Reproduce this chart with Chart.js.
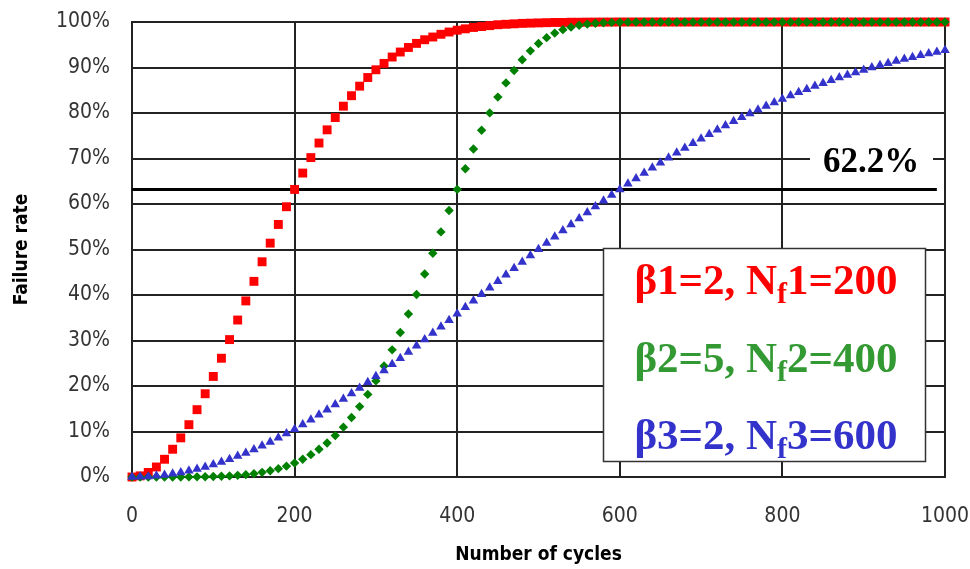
<!DOCTYPE html>
<html><head><meta charset="utf-8">
<script src="https://cdn.jsdelivr.net/npm/chart.js@4"></script>
<style>html,body{margin:0;padding:0;background:#fff;overflow:hidden}#wrap{width:970px;height:569px}</style>
</head><body><div id="wrap"><canvas id="c" width="970" height="569"></canvas></div>
<script>
// ---- data ----
const cycles = [0,10,20,30,40,50,60,70,80,90,100,110,120,130,140,150,160,170,180,190,200,210,220,230,240,250,260,270,280,290,300,310,320,330,340,350,360,370,380,390,400,410,420,430,440,450,460,470,480,490,500,510,520,530,540,550,560,570,580,590,600,610,620,630,640,650,660,670,680,690,700,710,720,730,740,750,760,770,780,790,800,810,820,830,840,850,860,870,880,890,900,910,920,930,940,950,960,970,980,990,1000];
const redValues = [0,0.25,1.0,2.2,3.9,6.1,8.6,11.5,14.8,18.3,
22.1,26.1,30.2,34.5,38.7,43.0,47.3,51.4,55.5,59.4,
63.2,66.8,70.2,73.4,76.3,79.0,81.5,83.8,85.9,87.8,
89.5,90.9,92.3,93.4,94.4,95.3,96.1,96.7,97.3,97.8,
98.2,98.5,98.8,99.0,99.2,99.4,99.5,99.6,99.7,99.75,
99.8,99.85,99.9,99.9,99.95,99.95,99.97,99.98,99.99,99.99,
100,100,100,100,100,100,100,100,100,100,
100,100,100,100,100,100,100,100,100,100,
100,100,100,100,100,100,100,100,100,100,
100,100,100,100,100,100,100,100,100,100,100];
const greenValues = [0,0,0,0,0,0.01,0.01,0.02,0.03,0.06,
0.1,0.16,0.24,0.36,0.52,0.74,1.02,1.38,1.83,2.39,
3.08,3.91,4.91,6.09,7.48,9.10,10.96,13.08,15.47,18.15,
21.12,24.39,27.94,31.77,35.83,40.12,44.60,49.19,53.87,58.56,
63.21,67.75,72.09,76.20,80.02,83.50,86.62,89.35,91.70,93.66,
95.27,96.56,97.56,98.32,98.87,99.27,99.54,99.72,99.84,99.91,
99.95,99.97,99.99,99.99,100,100,100,100,100,100,
100,100,100,100,100,100,100,100,100,100,
100,100,100,100,100,100,100,100,100,100,
100,100,100,100,100,100,100,100,100,100,100];
const blueValues = [0,0.03,0.11,0.25,0.44,0.69,1.00,1.35,1.76,2.22,
2.74,3.31,3.92,4.59,5.30,6.06,6.86,7.71,8.61,9.54,
10.52,11.53,12.58,13.67,14.79,15.94,17.12,18.33,19.57,20.83,
22.12,23.43,24.76,26.10,27.47,28.84,30.23,31.63,33.04,34.47,
35.88,37.30,38.74,40.17,41.60,43.02,44.44,45.86,47.27,48.67,
50.07,51.45,52.81,54.17,55.51,56.84,58.15,59.44,60.72,61.97,
63.21,64.43,65.62,66.79,67.95,69.08,70.18,71.26,72.32,73.35,
74.36,75.34,76.31,77.24,78.16,79.04,79.90,80.74,81.55,82.33,
83.10,83.84,84.55,85.24,85.91,86.56,87.18,87.78,88.36,88.92,
89.46,89.98,90.47,90.95,91.41,91.85,92.27,92.67,93.06,93.43,93.78];
const thresholdValue = 63.2;
const thresholdSpan = [0, 990];
const thresholdLabel = '62.2%';
const xTicks = [0,200,400,600,800,1000];
const yTicks = [0,10,20,30,40,50,60,70,80,90,100];
const legendLines = [
  ['β1=2, N','f','1=200'],
  ['β2=5, N','f','2=400'],
  ['β3=2, N','f','3=600']
];
const seriesColors = ['#ff0000','#008000','#3333cc'];
const legendColors = ['#ff0000','#339933','#3333cc'];

// ---- chart ----
const toPts = vals => cycles.map((c,i)=>({x:c,y:vals[i]}));
const SANS = '"Liberation Sans Narrow","Arial Narrow","DejaVu Sans Condensed","Liberation Sans",Arial,sans-serif';
const SERIF = '"Liberation Serif","Times New Roman",serif';

const overlay = {
  id:'overlay',
  afterDatasetsDraw(chart){
    const ctx = chart.ctx;
    ctx.save();
    // threshold label
    ctx.fillStyle='#fff';
    ctx.fillRect(810,146,123,30);
    ctx.fillStyle='#000';
    ctx.font='bold 35px '+SERIF;
    ctx.textAlign='center';
    ctx.textBaseline='alphabetic';
    ctx.fillText(thresholdLabel,871,172);
    // legend box
    ctx.fillStyle='#fff';
    ctx.fillRect(603,248,323,214);
    ctx.strokeStyle='#333';
    ctx.lineWidth=1.5;
    ctx.strokeRect(603.5,248.5,322,213);
    const baselines=[294,372,449];
    const mainFont='bold 43px '+SERIF, subFont='bold 30px '+SERIF;
    ctx.textAlign='left';
    legendLines.forEach((parts,i)=>{
      ctx.font=mainFont; const w1=ctx.measureText(parts[0]).width; const w3=ctx.measureText(parts[2]).width;
      ctx.font=subFont; const w2=ctx.measureText(parts[1]).width;
      let x = 766-(w1+w2+w3)/2;
      ctx.fillStyle=legendColors[i];
      ctx.font=mainFont; ctx.fillText(parts[0],x,baselines[i]); x+=w1;
      ctx.font=subFont; ctx.fillText(parts[1],x,baselines[i]+9); x+=w2;
      ctx.font=mainFont; ctx.fillText(parts[2],x,baselines[i]);
    });
    ctx.restore();
  }
};

new Chart(document.getElementById('c'),{
  type:'scatter',
  data:{datasets:[
    {label:'threshold',data:thresholdSpan.map(x=>({x,y:thresholdValue})),showLine:true,borderColor:'#000',borderWidth:3,pointRadius:0,order:4,clip:false},
    {label:'β1=2, Nf1=200',data:toPts(redValues),pointStyle:'rect',pointRadius:6.3,backgroundColor:seriesColors[0],borderColor:seriesColors[0],borderWidth:0,order:3,clip:false},
    {label:'β2=5, Nf2=400',data:toPts(greenValues),pointStyle:'rectRot',pointRadius:4.7,backgroundColor:seriesColors[1],borderColor:seriesColors[1],borderWidth:0,order:2,clip:false},
    {label:'β3=2, Nf3=600',data:toPts(blueValues),pointStyle:'triangle',pointRadius:5.5,backgroundColor:seriesColors[2],borderColor:seriesColors[2],borderWidth:0,order:1,clip:false}
  ]},
  options:{
    responsive:false,animation:false,
    layout:{padding:{top:22,right:25,left:0,bottom:0}},
    plugins:{legend:{display:false},tooltip:{enabled:false}},
    scales:{
      x:{type:'linear',min:0,max:1000,
        afterBuildTicks:s=>{s.ticks=xTicks.map(v=>({value:v}));},
        afterFit:s=>{s.height=92;s.paddingLeft=0;s.paddingRight=0;},
        grid:{color:'#222',lineWidth:2,drawTicks:false},
        border:{color:'#222',width:2},
        ticks:{padding:27,color:'#333',font:{family:SANS,size:21},maxRotation:0,callback:v=>String(v)},
        title:{display:true,text:'Number of cycles',color:'#000',font:{family:SANS,size:19,weight:'bold'},padding:{top:0,bottom:3}}
      },
      y:{min:0,max:100,
        afterBuildTicks:s=>{s.ticks=yTicks.map(v=>({value:v}));},
        afterFit:s=>{s.width=132;s.paddingTop=0;s.paddingBottom=0;},
        grid:{color:'#222',lineWidth:2,drawTicks:false},
        border:{color:'#222',width:2},
        ticks:{padding:22,color:'#333',font:{family:SANS,size:21},callback:v=>v+'%'},
        title:{display:true,text:'Failure rate',color:'#000',font:{family:SANS,size:19,weight:'bold'},padding:{top:11,bottom:0}}
      }
    }
  },
  plugins:[overlay]
});
</script></body></html>
